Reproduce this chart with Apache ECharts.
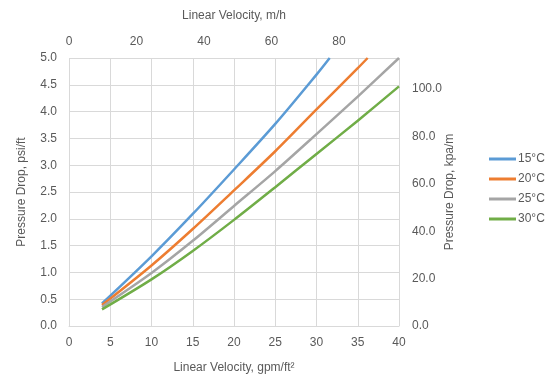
<!DOCTYPE html>
<html>
<head>
<meta charset="utf-8">
<script src="https://cdn.jsdelivr.net/npm/echarts@6/dist/echarts.min.js"></script>
<style>html,body{margin:0;padding:0;background:#fff}#c{width:550px;height:384px}</style>
</head>
<body>
<div id="c"></div>
<script>
var seriesNames = ['15°C', '20°C', '25°C', '30°C'];
var colors = ['#5B9BD5', '#ED7D31', '#A5A5A5', '#70AD47'];
var s15 = [[4,0.42],[10,1.30],[15,2.09],[20,2.92],[25,3.77],[30,4.69],[31.6,5.0]];
var s20 = [[4,0.39],[10,1.13],[15,1.81],[20,2.53],[25,3.26],[30,4.04],[35,4.81],[36.2,5.0]];
var s25 = [[4,0.355],[10,0.99],[15,1.59],[20,2.24],[25,2.89],[30,3.58],[35,4.28],[40,5.0]];
var s30 = [[4,0.31],[10,0.87],[15,1.40],[20,1.98],[25,2.59],[30,3.21],[35,3.83],[40,4.47]];
var allData = [s15, s20, s25, s30];

var font = 'Liberation Sans';
var txt = '#595959';
var fs = 12;
var chart = echarts.init(document.getElementById('c'));
chart.setOption({
  animation: false,
  textStyle: {fontFamily: font},
  grid: {left: 69, right: 151, top: 58, bottom: 58},
  legend: {
    orient: 'vertical', left: 484, top: 148,
    itemWidth: 27, itemHeight: 3, itemGap: 8,
    icon: 'rect',
    textStyle: {color: txt, fontSize: fs, fontFamily: font, padding: [0,0,0,-3]},
    data: seriesNames
  },
  xAxis: [{
    type: 'value', min: 0, max: 40, interval: 5, position: 'bottom',
    name: 'Linear Velocity, gpm/ft²', nameLocation: 'middle', nameGap: 36,
    nameMoveOverlap: false,
    nameTextStyle: {color: txt, fontSize: fs, fontFamily: font},
    axisLine: {show: true, lineStyle: {color: '#D9D9D9'}},
    axisTick: {show: false},
    axisLabel: {color: txt, fontSize: fs, margin: 11, fontFamily: font},
    splitLine: {show: true, lineStyle: {color: '#D9D9D9', width: 1}}
  }, {
    type: 'value', min: 0, max: 97.79, interval: 20, position: 'top',
    name: 'Linear Velocity, m/h', nameLocation: 'middle', nameGap: 36,
    nameMoveOverlap: false,
    nameTextStyle: {color: txt, fontSize: fs, fontFamily: font},
    axisLine: {show: false}, axisTick: {show: false},
    axisLabel: {color: txt, fontSize: fs, margin: 10, showMaxLabel: false, fontFamily: font},
    splitLine: {show: false}
  }],
  yAxis: [{
    type: 'value', min: 0, max: 5, interval: 0.5, position: 'left',
    name: 'Pressure Drop, psi/ft', nameLocation: 'middle', nameGap: 41,
    nameMoveOverlap: false,
    nameTextStyle: {color: txt, fontSize: fs, fontFamily: font},
    axisLine: {show: false}, axisTick: {show: false},
    axisLabel: {color: txt, fontSize: fs, margin: 12, fontFamily: font,
      formatter: function (v) { return v.toFixed(1); }},
    splitLine: {show: true, lineStyle: {color: '#D9D9D9', width: 1}}
  }, {
    type: 'value', min: 0, max: 113.1, interval: 20, position: 'right',
    name: 'Pressure Drop, kpa/m', nameLocation: 'middle', nameGap: 45,
    nameMoveOverlap: false,
    nameTextStyle: {color: txt, fontSize: fs, fontFamily: font},
    axisLine: {show: false}, axisTick: {show: false},
    axisLabel: {color: txt, fontSize: fs, margin: 13, showMaxLabel: false, fontFamily: font,
      formatter: function (v) { return v.toFixed(1); }},
    splitLine: {show: false}
  }],
  series: allData.map(function (d, i) {
    return {
      name: seriesNames[i], type: 'line', data: d,
      xAxisIndex: 0, yAxisIndex: 0,
      showSymbol: false, smooth: 0.3,
      lineStyle: {color: colors[i], width: 2.5},
      itemStyle: {color: colors[i]}
    };
  })
});
</script>
</body>
</html>
